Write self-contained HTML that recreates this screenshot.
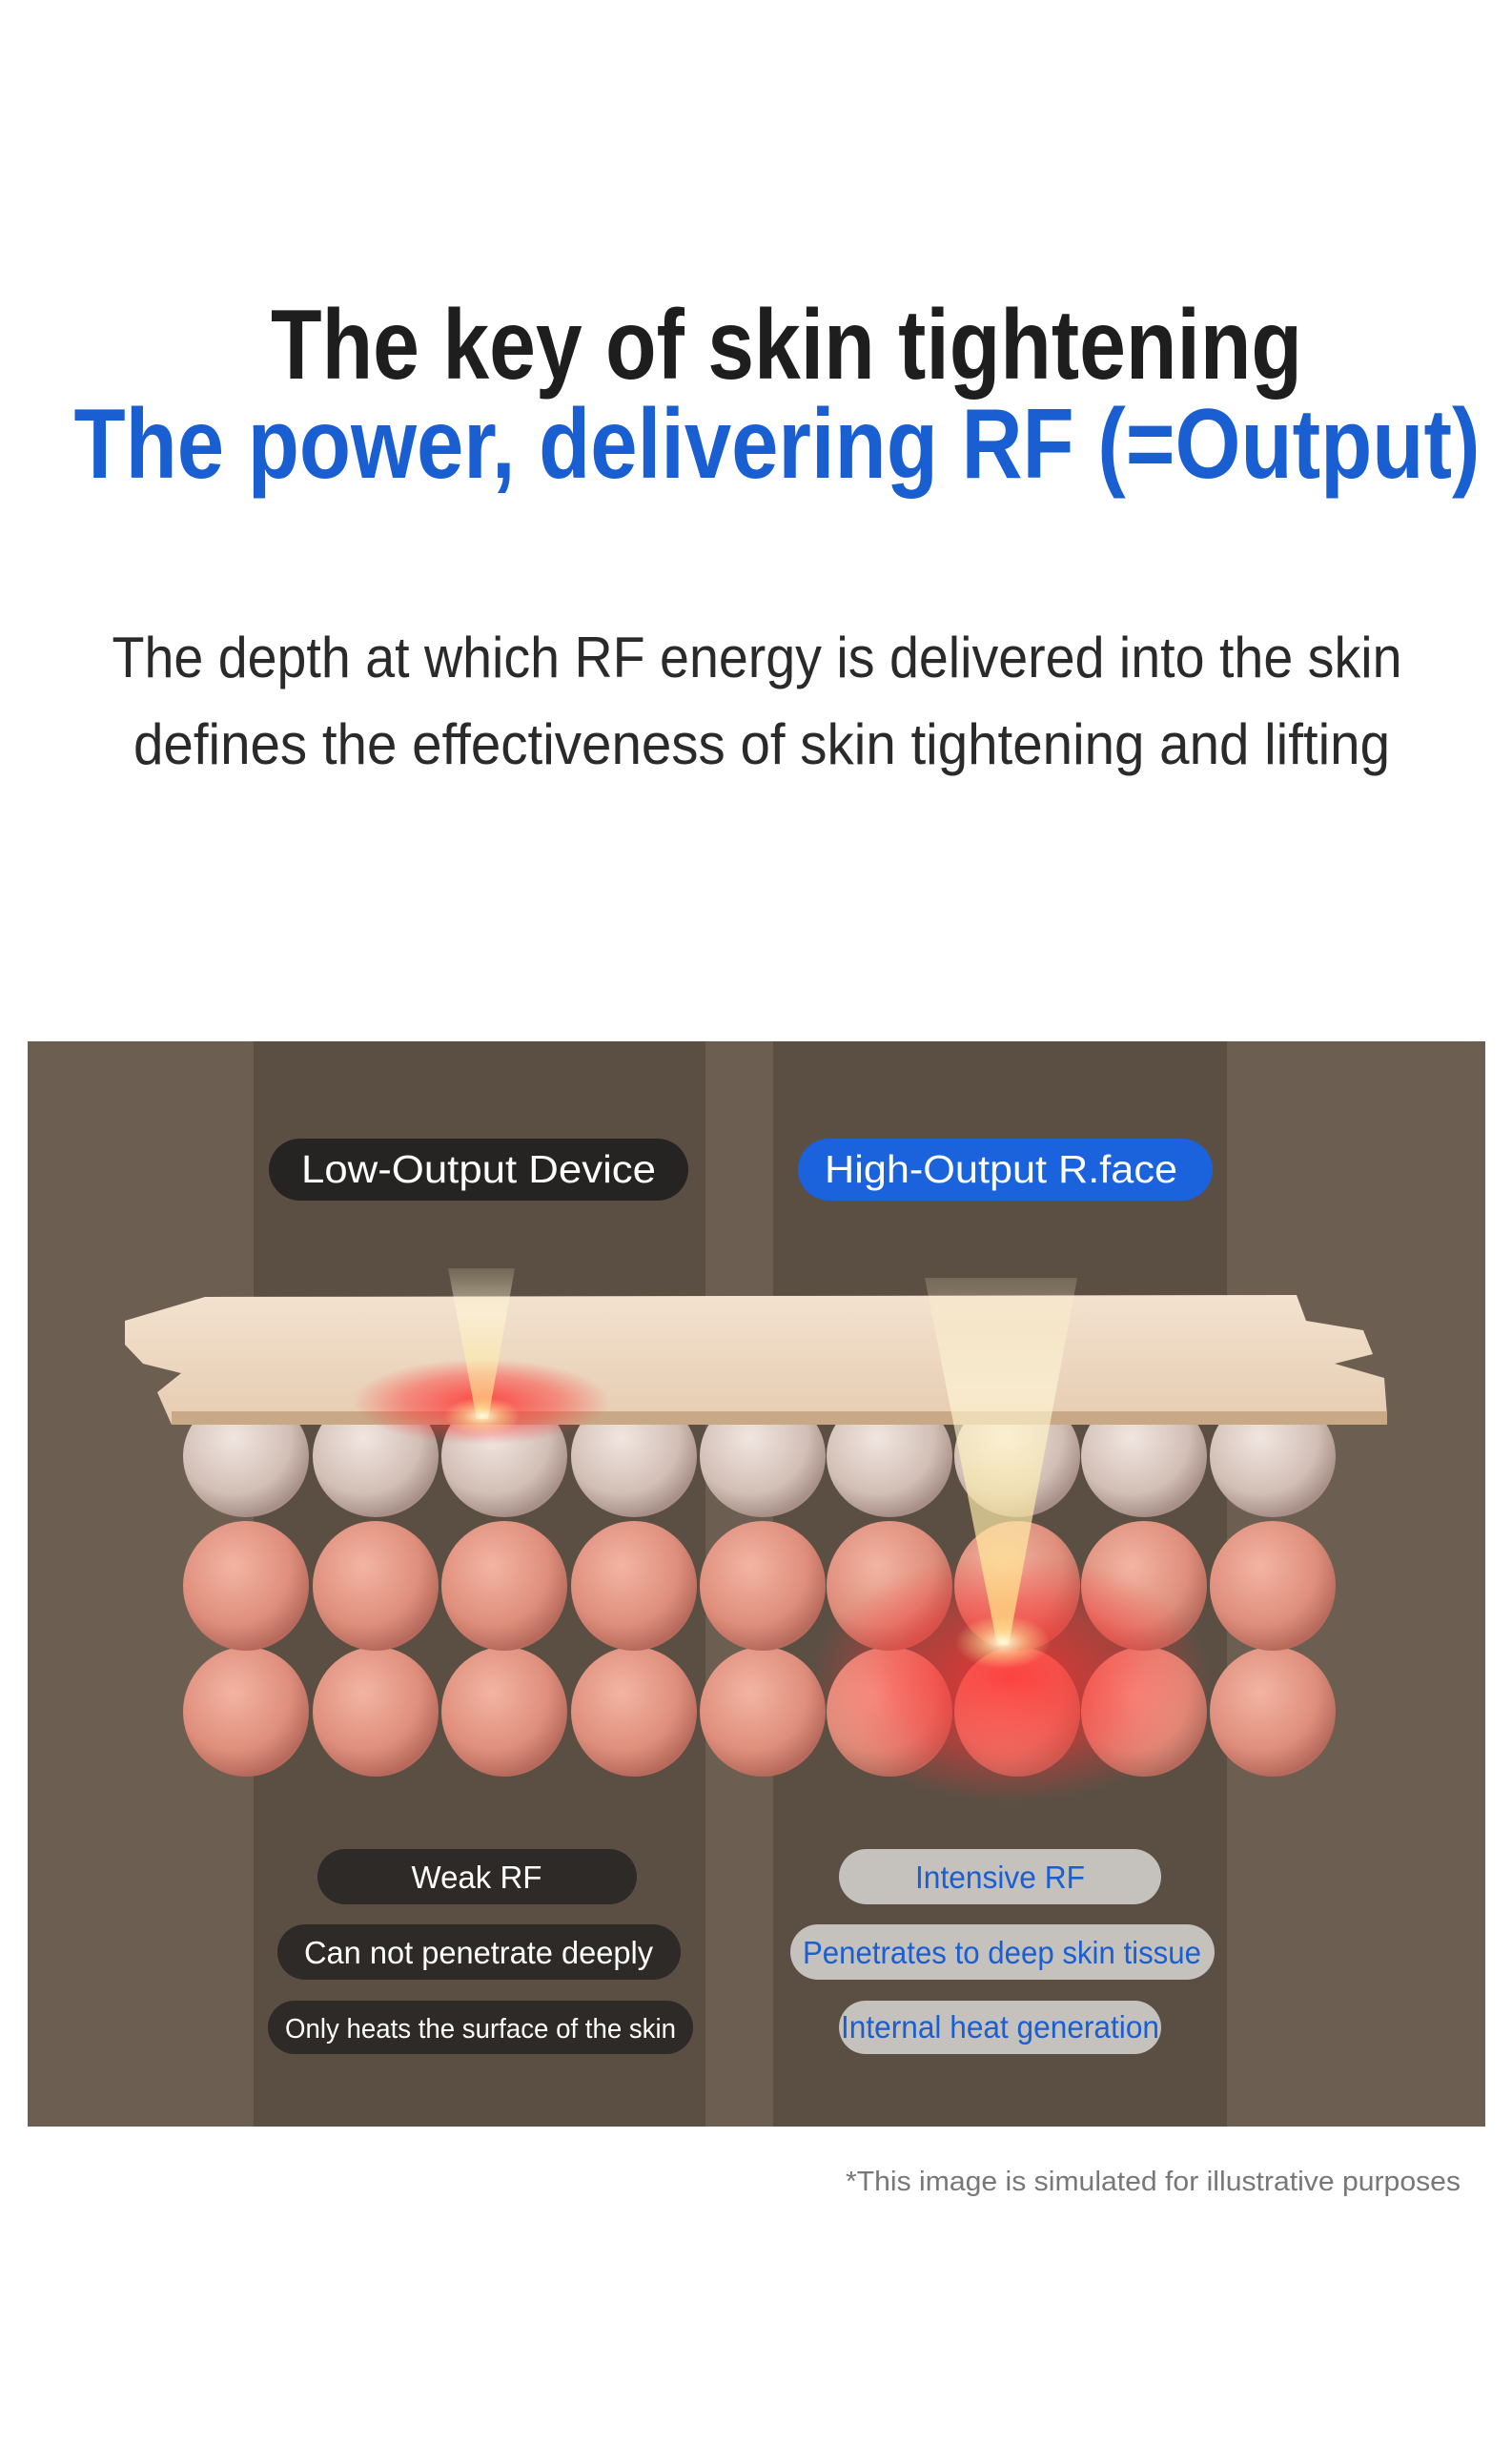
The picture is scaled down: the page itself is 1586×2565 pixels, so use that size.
<!DOCTYPE html>
<html><head><meta charset="utf-8"><style>
html,body{margin:0;padding:0;background:#fff;}
body{width:1586px;height:2560px;overflow:hidden;}
</style></head><body>
<svg width="1586" height="2560" viewBox="0 0 1586 2560" xmlns="http://www.w3.org/2000/svg" font-family="Liberation Sans, sans-serif">
<defs>
<radialGradient id="wb" cx="40%" cy="35%" r="65%"><stop offset="0" stop-color="#f1e6e0"/><stop offset="0.7" stop-color="#d2bfb6"/><stop offset="1" stop-color="#a89088"/></radialGradient>
<radialGradient id="pk" cx="40%" cy="35%" r="65%"><stop offset="0" stop-color="#f3b4a2"/><stop offset="0.7" stop-color="#df8e7c"/><stop offset="1" stop-color="#b76a5c"/></radialGradient>
<radialGradient id="red" cx="50%" cy="50%" r="50%"><stop offset="0" stop-color="#ff3030" stop-opacity="0.85"/><stop offset="0.6" stop-color="#ff3535" stop-opacity="0.45"/><stop offset="1" stop-color="#ff3535" stop-opacity="0"/></radialGradient>
<radialGradient id="yl" cx="50%" cy="50%" r="50%"><stop offset="0" stop-color="#fffbe0" stop-opacity="1"/><stop offset="0.5" stop-color="#ffe89a" stop-opacity="0.5"/><stop offset="1" stop-color="#ffe89a" stop-opacity="0"/></radialGradient>
<linearGradient id="beam" x1="0" y1="0" x2="0" y2="1"><stop offset="0" stop-color="#fff6c8" stop-opacity="0.2"/><stop offset="0.3" stop-color="#fff8d8" stop-opacity="0.8"/><stop offset="1" stop-color="#ffe27a" stop-opacity="0.9"/></linearGradient>
<linearGradient id="hex" x1="0" y1="0" x2="0" y2="1"><stop offset="0" stop-color="#f3e2cf"/><stop offset="1" stop-color="#e6ccb1"/></linearGradient>
</defs>
<text x="825" y="397" text-anchor="middle" font-size="104" font-weight="bold" fill="#1e1e1e" textLength="1082" lengthAdjust="spacingAndGlyphs">The key of skin tightening</text>
<text x="815" y="501" text-anchor="middle" font-size="104" font-weight="bold" fill="#1a5fd2" textLength="1475" lengthAdjust="spacingAndGlyphs">The power, delivering RF (=Output)</text>
<text x="794" y="710" text-anchor="middle" font-size="60" fill="#2a2a2a" textLength="1353" lengthAdjust="spacingAndGlyphs">The depth at which RF energy is delivered into the skin</text>
<text x="799" y="801" text-anchor="middle" font-size="60" fill="#2a2a2a" textLength="1318" lengthAdjust="spacingAndGlyphs">defines the effectiveness of skin tightening and lifting</text>

<rect x="29" y="1092" width="1529" height="1138" fill="#6c5f52"/>
<rect x="266" y="1092" width="474" height="1138" fill="#5b4f44"/>
<rect x="811" y="1092" width="476" height="1138" fill="#5b4f44"/>

<rect x="282" y="1194" width="440" height="65" rx="32.5" fill="#262422"/>
<text x="502" y="1240" text-anchor="middle" font-size="41" fill="#fff" textLength="372" lengthAdjust="spacingAndGlyphs">Low-Output Device</text>
<rect x="837" y="1194" width="435" height="65" rx="32.5" fill="#1a63dc"/>
<text x="1050" y="1240" text-anchor="middle" font-size="41" fill="#fff" textLength="370" lengthAdjust="spacingAndGlyphs">High-Output R.face</text>

<!-- spheres -->
<g>
<g fill="url(#pk)">
<ellipse cx="258" cy="1795" rx="66" ry="68"/><ellipse cx="394" cy="1795" rx="66" ry="68"/><ellipse cx="529" cy="1795" rx="66" ry="68"/><ellipse cx="665" cy="1795" rx="66" ry="68"/><ellipse cx="800" cy="1795" rx="66" ry="68"/><ellipse cx="933" cy="1795" rx="66" ry="68"/><ellipse cx="1067" cy="1795" rx="66" ry="68"/><ellipse cx="1200" cy="1795" rx="66" ry="68"/><ellipse cx="1335" cy="1795" rx="66" ry="68"/>
<ellipse cx="258" cy="1663" rx="66" ry="68"/><ellipse cx="394" cy="1663" rx="66" ry="68"/><ellipse cx="529" cy="1663" rx="66" ry="68"/><ellipse cx="665" cy="1663" rx="66" ry="68"/><ellipse cx="800" cy="1663" rx="66" ry="68"/><ellipse cx="933" cy="1663" rx="66" ry="68"/><ellipse cx="1067" cy="1663" rx="66" ry="68"/><ellipse cx="1200" cy="1663" rx="66" ry="68"/><ellipse cx="1335" cy="1663" rx="66" ry="68"/>
</g>
<g fill="url(#wb)">
<ellipse cx="258" cy="1527" rx="66" ry="64"/><ellipse cx="394" cy="1527" rx="66" ry="64"/><ellipse cx="529" cy="1527" rx="66" ry="64"/><ellipse cx="665" cy="1527" rx="66" ry="64"/><ellipse cx="800" cy="1527" rx="66" ry="64"/><ellipse cx="933" cy="1527" rx="66" ry="64"/><ellipse cx="1067" cy="1527" rx="66" ry="64"/><ellipse cx="1200" cy="1527" rx="66" ry="64"/><ellipse cx="1335" cy="1527" rx="66" ry="64"/>
</g>
</g>
<ellipse cx="1060" cy="1760" rx="210" ry="130" fill="url(#red)"/>
<!-- hex layer -->
<polygon points="131,1385 215,1360 1360,1358 1370,1385 1430,1395 1440,1420 1400,1430 1452,1445 1455,1485 1390,1490 1320,1490 1240,1494 180,1494 165,1460 190,1440 150,1430 131,1410" fill="url(#hex)"/>
<path d="M180,1480 L1455,1480 L1455,1494 L180,1494 Z" fill="#c9a887"/>
<ellipse cx="505" cy="1470" rx="135" ry="45" fill="url(#red)"/>
<polygon points="470,1330 540,1330 512,1488 500,1488" fill="url(#beam)" opacity="0.7"/>
<ellipse cx="506" cy="1485" rx="40" ry="20" fill="url(#yl)"/>
<polygon points="970,1340 1130,1340 1058,1725 1046,1725" fill="url(#beam)" opacity="0.8"/>
<ellipse cx="1052" cy="1722" rx="50" ry="28" fill="url(#yl)"/>

<rect x="333" y="1939" width="335" height="58" rx="29" fill="#2e2a27"/>
<text x="500" y="1980" text-anchor="middle" font-size="33" fill="#fff">Weak RF</text>
<rect x="291" y="2018" width="423" height="58" rx="29" fill="#2e2a27"/>
<text x="502" y="2059" text-anchor="middle" font-size="33" fill="#fff" textLength="366" lengthAdjust="spacingAndGlyphs">Can not penetrate deeply</text>
<rect x="281" y="2098" width="446" height="56" rx="28" fill="#2e2a27"/>
<text x="504" y="2137" text-anchor="middle" font-size="29" fill="#fff" textLength="410" lengthAdjust="spacingAndGlyphs">Only heats the surface of the skin</text>

<rect x="880" y="1939" width="338" height="58" rx="29" fill="#c5c1bd"/>
<text x="1049" y="1980" text-anchor="middle" font-size="33" fill="#1a5fd2" textLength="178" lengthAdjust="spacingAndGlyphs">Intensive RF</text>
<rect x="829" y="2018" width="445" height="58" rx="29" fill="#c5c1bd"/>
<text x="1051" y="2059" text-anchor="middle" font-size="33" fill="#1a5fd2" textLength="418" lengthAdjust="spacingAndGlyphs">Penetrates to deep skin tissue</text>
<rect x="880" y="2098" width="338" height="56" rx="28" fill="#c5c1bd"/>
<text x="1049" y="2137" text-anchor="middle" font-size="33" fill="#1a5fd2" textLength="334" lengthAdjust="spacingAndGlyphs">Internal heat generation</text>

<text x="1532" y="2297" text-anchor="end" font-size="29" fill="#777" textLength="645" lengthAdjust="spacingAndGlyphs">*This image is simulated for illustrative purposes</text>
</svg>
</body></html>
